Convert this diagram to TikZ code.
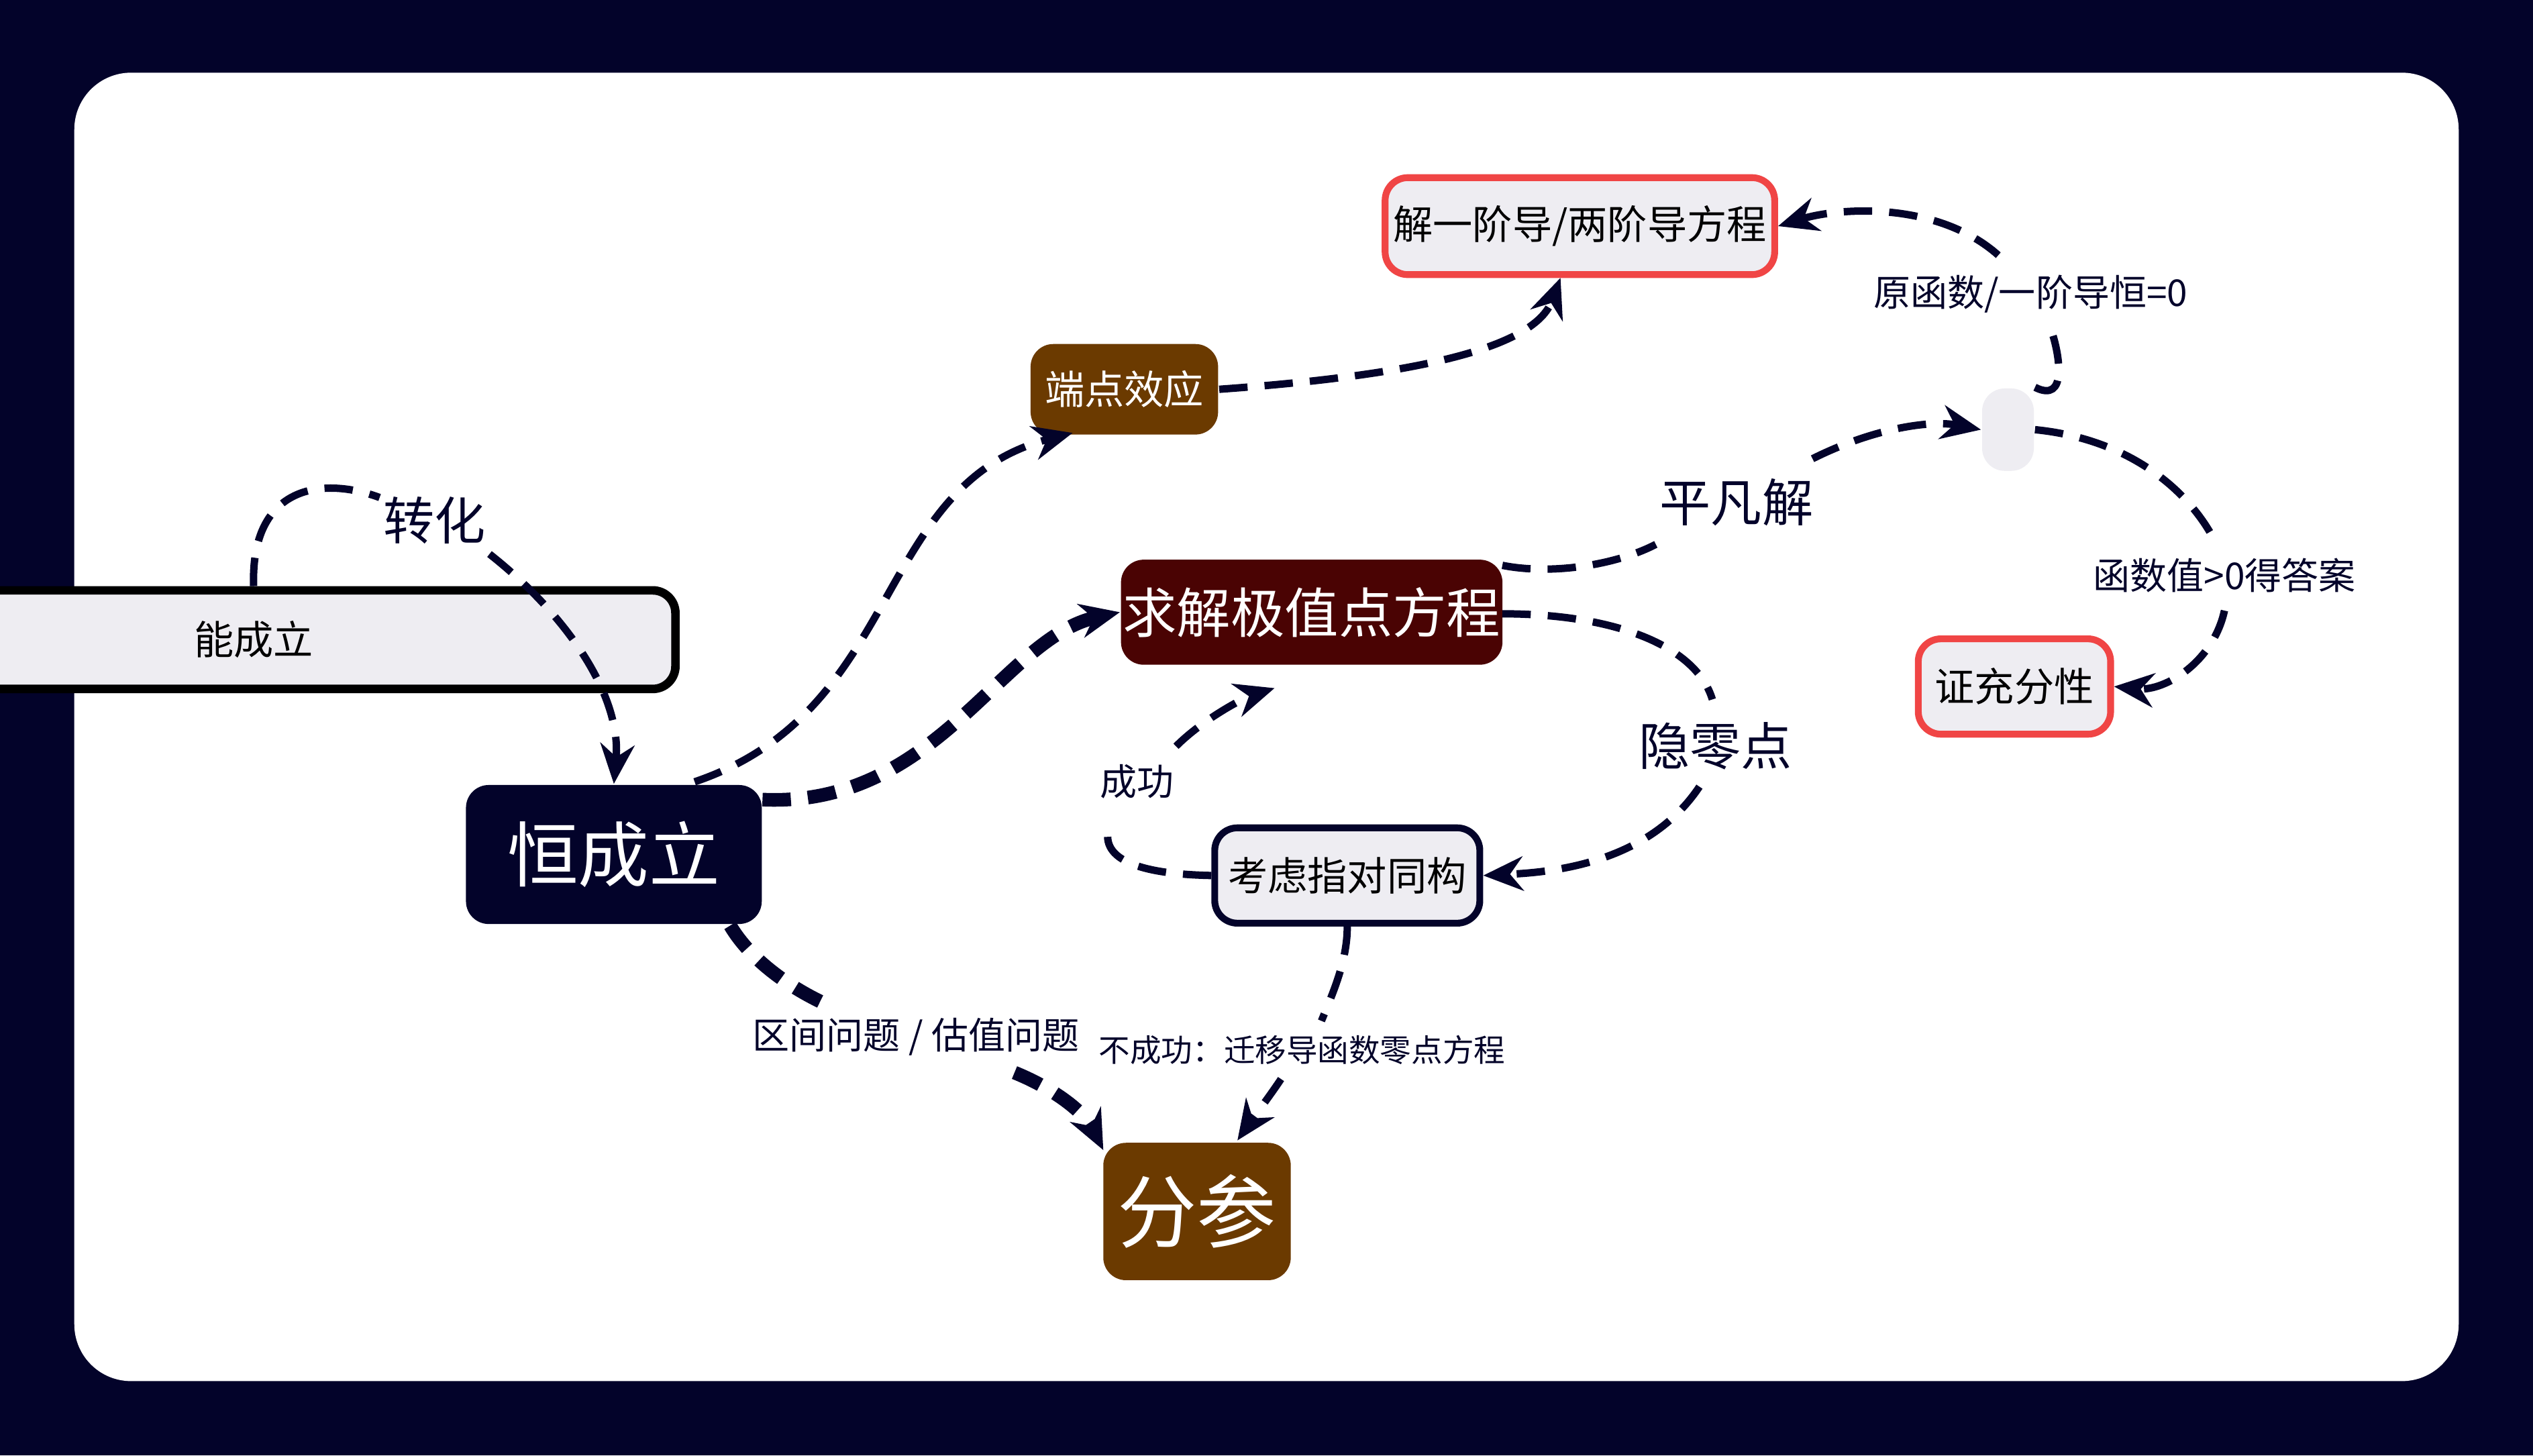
\documentclass[tikz,border=0pt]{standalone}
\usepackage{fontspec}
\setmainfont{Noto Sans CJK SC}
\usetikzlibrary{arrows.meta,decorations.pathmorphing}
\definecolor{navy}{HTML}{03032A}
\definecolor{brn}{HTML}{6B3A00}
\definecolor{dred}{HTML}{4A0303}
\definecolor{lg}{HTML}{EEEDF2}
\definecolor{rd}{HTML}{F04545}
\begin{document}
\begin{tikzpicture}[x=0.01cm,y=-0.01cm,
  box/.style={rounded corners=4pt,inner sep=0pt,align=center},
  lab/.style={inner sep=1pt,text=navy},
  dl/.style={draw=navy,line width=1.3pt,dash pattern=on 5pt off 3pt},
  ar/.style={dl,-{Stealth[length=7pt,width=6pt]}},
  thk/.style={line width=2.4pt}]
\fill[navy] (0,0) rectangle (1568,901);
\useasboundingbox (0,0) rectangle (1568,901);
\fill[white,rounded corners=10pt] (46,45) rectangle (1522,855);
% nodes
\node[box,fill=lg,draw=black,line width=1.5pt,minimum width=99\pgflinewidth,text width=0.97cm,minimum height=0.61cm,font=\fontsize{7}{8}\selectfont] (nc) at (157,396) {能成立};
\node[box,fill=navy,text=white,minimum width=1.83cm,minimum height=0.86cm,font=\fontsize{12.5}{14}\selectfont] (hc) at (380,529) {恒成立};
\node[box,fill=brn,text=white,minimum width=1.16cm,minimum height=0.56cm,font=\fontsize{7}{8}\selectfont] (dd) at (696,241) {端点效应};
\node[box,fill=lg,draw=rd,line width=1.2pt,minimum width=2.41cm,minimum height=0.60cm,font=\fontsize{7}{8}\selectfont] (jy) at (978,140) {解一阶导/两阶导方程};
\node[box,fill=lg,minimum width=0.32cm,minimum height=0.51cm] (sm) at (1243,266) {};
\node[box,fill=dred,text=white,minimum width=2.36cm,minimum height=0.65cm,font=\fontsize{9.5}{11}\selectfont] (qj) at (812,379) {求解极值点方程};
\node[box,fill=lg,draw=rd,line width=1.2pt,minimum width=1.19cm,minimum height=0.59cm,font=\fontsize{7}{8}\selectfont] (zc) at (1247,425) {证充分性};
\node[box,fill=lg,draw=navy,line width=1.2pt,minimum width=1.64cm,minimum height=0.59cm,font=\fontsize{7}{8}\selectfont] (kl) at (834,542) {考虑指对同构};
\node[box,fill=brn,text=white,minimum width=1.16cm,minimum height=0.85cm,font=\fontsize{14}{16}\selectfont] (fc) at (741,750) {分参};
% labels
\node[lab,font=\fontsize{9}{10}\selectfont] (l1) at (269,322) {转化};
\node[lab,font=\fontsize{6.5}{8}\selectfont] (l2) at (1257,182) {原函数/一阶导恒=0};
\node[lab,font=\fontsize{9}{10}\selectfont] (l3) at (1075,311) {平凡解};
\node[lab,font=\fontsize{6.5}{8}\selectfont] (l4) at (1377,356) {函数值>0得答案};
\node[lab,font=\fontsize{9}{10}\selectfont] (l5) at (1062,462) {隐零点};
\node[lab,font=\fontsize{6.5}{8}\selectfont] (l6) at (704,484) {成功};
\node[lab,font=\fontsize{6.5}{8}\selectfont] (l7) at (567,642) {区间问题 / 估值问题};
\node[lab,font=\fontsize{5.5}{7}\selectfont] (l8) at (806,650) {不成功：迁移导函数零点方程};
\coordinate (c9) at (789,426);
% edges
\draw[dl] (nc.north) .. controls (155,300) and (200,295) .. (235,308);
\draw[ar] (303,343) .. controls (350,380) and (385,430) .. (hc.north);
\draw[ar] (430,484) .. controls (560,440) and (540,300) .. (664,268);
\draw[ar] (dd.east) .. controls (880,232) and (950,215) .. (966,172);
\draw[dl] (sm.north east) .. controls (1280,250) and (1275,220) .. (1270,205);
\draw[ar] (1237,158) .. controls (1200,125) and (1140,128) .. (jy.east);
\draw[dl] (930,350) .. controls (960,356) and (1000,350) .. (1025,337);
\draw[ar] (1122,284) .. controls (1160,265) and (1195,260) .. (sm.west);
\draw[dl] (sm.east) .. controls (1320,272) and (1355,305) .. (1370,333);
\draw[ar] (1377,378) .. controls (1370,410) and (1340,428) .. (zc.east);
\draw[ar,thk] (472,495) .. controls (580,500) and (620,395) .. (qj.west);
\draw[dl] (930,380) .. controls (1000,380) and (1050,400) .. (1060,433);
\draw[ar] (1052,487) .. controls (1020,535) and (960,540) .. (kl.east);
\draw[dl] (kl.west) .. controls (700,541) and (678,530) .. (688,508);
\draw[ar] (728,462) .. controls (745,445) and (770,432) .. (c9);
\draw[dl] (kl.south) .. controls (834,595) and (825,615) .. (818,632);
\draw[ar] (793,668) .. controls (785,680) and (775,693) .. (766,706);
\draw[dl,thk] (452,573) .. controls (465,595) and (490,612) .. (512,622);
\draw[ar,thk] (628,664) .. controls (655,675) and (672,690) .. (683,712);
\end{tikzpicture}
\end{document}
